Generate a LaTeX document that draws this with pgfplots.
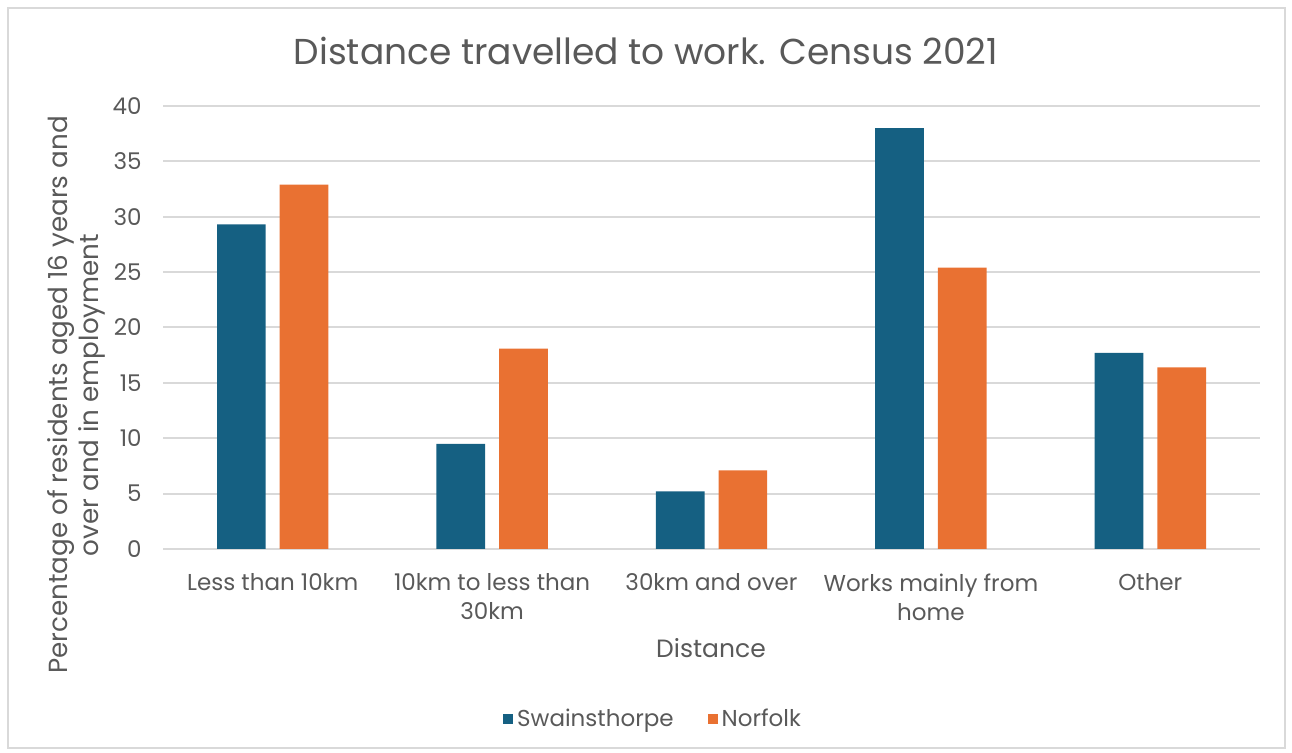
\documentclass[border=0pt]{standalone}
\usepackage{fontspec}
\setmainfont{Poppins}
\usepackage{pgfplots}
\pgfplotsset{compat=1.18}
\definecolor{sblue}{HTML}{156082}
\definecolor{norange}{HTML}{E97132}
\definecolor{txt}{HTML}{595959}
\definecolor{gridc}{HTML}{D9D9D9}
\begin{document}
\begin{tikzpicture}
\useasboundingbox (0,0) rectangle (646pt,376.5pt);
\draw[gridc, line width=0.6pt] (4pt,2.5pt) rectangle (642.5pt,372.5pt);
\node[anchor=base, text=txt, font=\fontsize{18}{22}\selectfont] at (323pt,344pt) {Distance travelled to work. Census 2021};
\node[anchor=base, text=txt, font=\fontsize{12.5}{15}\selectfont] at (355.5pt,47.5pt) {Distance};
\node[rotate=90, align=center, text=txt, font=\fontsize{13.1}{15.5}\selectfont] at (38pt,179pt) {Percentage of residents aged 16 years and\\over and in employment};
\begin{axis}[
  at={(81.5pt,102pt)}, anchor=south west,
  scale only axis, width=548.5pt, height=221.5pt,
  ybar=7pt, bar width=24.35pt,
  xmin=-0.5, xmax=4.5, ymin=0, ymax=40,
  xtick={0,1,2,3,4},
  xticklabels={Less than 10km, {10km to less than\\30km}, 30km and over, {Works mainly from\\home}, Other},
  ytick={0,5,...,40},
  ymajorgrids, major grid style={gridc, line width=1pt},
  axis line style={draw=none}, tick style={draw=none},
  ticklabel style={text=txt, font=\fontsize{11.5}{14.5}\selectfont},
  xticklabel style={anchor=north, inner sep=0pt, yshift=-8pt, align=center},
  yticklabel style={anchor=east, inner sep=0pt, xshift=-10.5pt},
  /pgf/number format/assume math mode=true,
  legend columns=2,
  legend style={at={(0.4476,-0.3837)}, anchor=center, draw=none, fill=none,
    font=\fontsize{11.5}{13}\selectfont, text=txt,
    /tikz/every even column/.append style={column sep=15pt}},
  legend image code/.code={\fill[#1] (0pt,-2.5pt) rectangle (5pt,2.5pt);},
  clip=false,
]
\addplot[fill=sblue, draw=none] coordinates {(0,29.3) (1,9.5) (2,5.2) (3,38.0) (4,17.7)};
\addplot[fill=norange, draw=none] coordinates {(0,32.9) (1,18.1) (2,7.1) (3,25.4) (4,16.4)};
\legend{Swainsthorpe, Norfolk}
\end{axis}
\end{tikzpicture}
\end{document}
